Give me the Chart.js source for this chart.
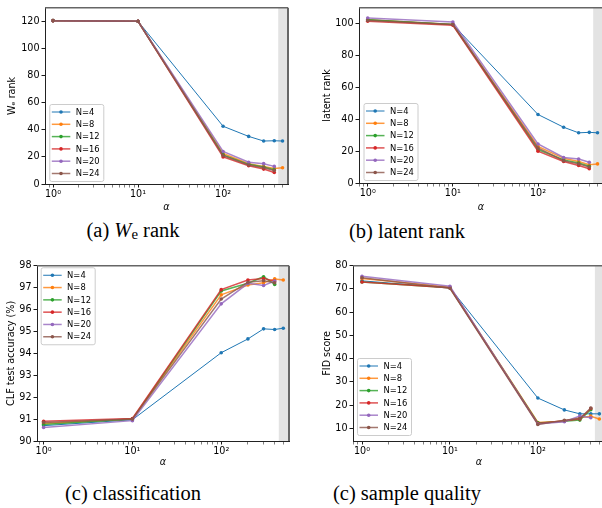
<!DOCTYPE html>
<html>
<head>
<meta charset="utf-8">
<script src="https://cdn.jsdelivr.net/npm/chart.js@4.4.0/dist/chart.umd.min.js"></script>
<style>
  html, body { margin: 0; padding: 0; background: #fff; overflow: hidden; }
  body { width: 602px; height: 508px; position: relative; }
  .panel { position: absolute; }
  .cap { position: absolute; font-family: "Liberation Serif", "Times New Roman", serif; font-size: 20.5px;
         color: #000; transform: translate(-50%, -50%); white-space: nowrap; }
  .cap sub { font-size: 0.72em; vertical-align: -0.2em; }
</style>
</head>
<body>
<canvas id="chartA" class="panel" width="300" height="216" style="left:0;top:0"></canvas>
<canvas id="chartB" class="panel" width="315" height="216" style="left:300px;top:0"></canvas>
<canvas id="chartC" class="panel" width="300" height="213" style="left:0;top:258px"></canvas>
<canvas id="chartD" class="panel" width="317" height="213" style="left:300px;top:258px"></canvas>
<div class="cap" style="left:133px;top:231px">(a) <i>W</i><sub>e</sub> rank</div>
<div class="cap" style="left:407px;top:231px">(b) latent rank</div>
<div class="cap" style="left:133px;top:493px">(c) classification</div>
<div class="cap" style="left:407px;top:493px">(c) sample quality</div>
<script>
// data
const alphas = [1, 10, 100, 200, 300, 400, 500];
const seriesNames = ['N=4', 'N=8', 'N=12', 'N=16', 'N=20', 'N=24'];
const seriesColors = ['#1f77b4', '#ff7f0e', '#2ca02c', '#d62728', '#9467bd', '#8c564b'];

const weRank = [
    [120.5, 120, 42.6, 35.1, 31.7, 31.9, 31.7],
    [120.5, 120, 22.5, 15, 13, 11.5, 12],
    [120.5, 120, 21.5, 14.5, 12.5, 10.5],
    [120.5, 120, 20, 13.5, 11, 8.5],
    [120.5, 120, 24, 16, 15, 13],
    [120.5, 120, 21, 14, 12, 10]
];
const latentRank = [
    [102.5, 99.5, 43, 35, 31.5, 31.8, 31.5],
    [102.5, 99.5, 23, 15.5, 13.5, 11.5, 12],
    [102.5, 99.5, 21, 14.5, 12.5, 10.5],
    [101.5, 99, 20, 13.5, 11, 9],
    [103.5, 101, 24.5, 16, 15, 13],
    [102, 99.5, 22, 14, 12, 10]
];
const clfAccuracy = [
    [90.7, 90.97, 94.03, 94.66, 95.12, 95.09, 95.15],
    [90.8, 91.0, 96.67, 97.12, 97.22, 97.4, 97.35],
    [90.75, 91.0, 96.85, 97.2, 97.5, 97.15],
    [90.9, 91.03, 96.91, 97.35, 97.42, 97.3],
    [90.62, 90.93, 96.26, 97.2, 97.1, 97.3],
    [90.85, 91.0, 96.48, 97.25, 97.32, 97.22]
];
const fidScore = [
    [73.5, 70.5, 23.0, 17.9, 16.2, 16.2, 16.2],
    [74.5, 70.8, 12.5, 13.0, 14.5, 15.2, 14.0],
    [73, 70.5, 12.3, 13.0, 13.5, 18],
    [73, 70.5, 12.0, 13.2, 14, 18.5],
    [75.5, 71.2, 11.8, 12.8, 15.3, 14.5],
    [74.8, 70.3, 11.6, 13.4, 14.2, 18.7]
];

const yTicksA = [0, 20, 40, 60, 80, 100, 120];
const yTicksB = [0, 20, 40, 60, 80, 100];
const yTicksC = [90, 91, 92, 93, 94, 95, 96, 97, 98];
const yTicksD = [10, 20, 30, 40, 50, 60, 70, 80];
const spanStart = 445;   // shaded alpha range
const xMax = 580;

const SUP = { '-1': '⁻¹', '0': '⁰', '1': '¹', '2': '²', '3': '³' };
const FONT = 'DejaVu Sans';

function withAlpha(hex, a) {
    const n = parseInt(hex.slice(1), 16);
    return `rgba(${n >> 16}, ${(n >> 8) & 255}, ${n & 255}, ${a})`;
}

// gray band + top/right spines
const framePlugin = {
    id: 'frame',
    beforeDatasetsDraw(chart) {
        const { ctx, chartArea: a, scales: { x } } = chart;
        const x0 = x.getPixelForValue(spanStart);
        ctx.save();
        ctx.fillStyle = '#e3e3e3';
        ctx.fillRect(x0, a.top, a.right - x0, a.bottom - a.top);
        ctx.restore();
    },
    afterDraw(chart) {
        const { ctx, chartArea: a } = chart;
        ctx.save();
        ctx.strokeStyle = '#666';
        ctx.lineWidth = 1.5;
        ctx.beginPath();
        ctx.moveTo(a.left, a.top); ctx.lineTo(a.right, a.top);
        ctx.stroke();
        ctx.lineWidth = 2;
        ctx.beginPath();
        ctx.moveTo(a.right, a.top); ctx.lineTo(a.right, a.bottom);
        ctx.stroke();
        ctx.restore();
    }
};

// matplotlib-like legend inside the axes
const legendPlugin = {
    id: 'insideLegend',
    afterDraw(chart, args, opts) {
        const { ctx, chartArea: a } = chart;
        const w = 54, h = 77, rowH = 12.3;
        const x0 = a.left + opts.dx;
        const y0 = opts.lower ? a.bottom - opts.dy - h : a.top + opts.dy;
        ctx.save();
        ctx.fillStyle = 'rgba(255,255,255,0.85)';
        ctx.strokeStyle = '#cccccc';
        ctx.lineWidth = 1;
        ctx.beginPath();
        ctx.roundRect(x0 + 0.5, y0 + 0.5, w, h, 2);
        ctx.fill();
        ctx.stroke();
        ctx.font = `8.4px "${FONT}"`;
        ctx.textBaseline = 'middle';
        chart.data.datasets.forEach((ds, i) => {
            const y = y0 + 8 + i * rowH;
            ctx.strokeStyle = ds.borderColor;
            ctx.lineWidth = ds.borderWidth;
            ctx.beginPath();
            ctx.moveTo(x0 + 2.5, y); ctx.lineTo(x0 + 21, y);
            ctx.stroke();
            ctx.fillStyle = ds.backgroundColor;
            ctx.beginPath();
            ctx.arc(x0 + 11.7, y, 1.8, 0, Math.PI * 2);
            ctx.fill();
            ctx.fillStyle = '#000';
            ctx.fillText(ds.label, x0 + 26.4, y + 0.5);
        });
        ctx.restore();
    }
};

function makeChart(id, rows, o) {
    const datasets = rows.map((vals, i) => ({
        label: seriesNames[i],
        data: vals.map((v, j) => ({ x: alphas[j], y: v })),
        borderColor: i === 0 ? seriesColors[i] : withAlpha(seriesColors[i], 0.8),
        backgroundColor: seriesColors[i],
        borderWidth: i === 0 ? 1 : 1.5,
        pointRadius: 1.8,
        pointBorderWidth: 0,
        pointHoverRadius: 0,
        tension: 0,
        order: rows.length - i
    }));
    return new Chart(document.getElementById(id), {
        type: 'line',
        data: { datasets },
        options: {
            responsive: false,
            animation: false,
            devicePixelRatio: 1,
            events: [],
            layout: { padding: { top: o.padTop, right: o.padRight, left: 0, bottom: 0 } },
            plugins: {
                legend: { display: false },
                tooltip: { enabled: false },
                insideLegend: o.legend
            },
            scales: {
                x: {
                    type: 'logarithmic',
                    min: o.xMin,
                    max: xMax,
                    afterBuildTicks: s => {
                        const t = [];
                        for (let k = -1; k <= 3; k++) {
                            for (let n = 1; n < 10; n++) {
                                const v = n * Math.pow(10, k);
                                if (v >= s.min && v <= s.max) t.push({ value: v, major: n === 1 });
                            }
                        }
                        s.ticks = t;
                    },
                    afterFit: s => { s.height = o.xHeight; },
                    ticks: {
                        autoSkip: false, maxRotation: 0, padding: 1, color: '#000',
                        font: { family: FONT, size: 9.6 },
                        callback: v => {
                            const l = Math.log10(v);
                            return Math.abs(l - Math.round(l)) < 1e-9 ? '10' + SUP[Math.round(l)] : '';
                        }
                    },
                    grid: {
                        drawOnChartArea: false, drawTicks: true, tickLength: 3.5, tickColor: '#000',
                        tickWidth: c => (c.tick && c.tick.major) ? 0.9 : 0.5
                    },
                    border: { display: true, color: '#222', width: 1 },
                    title: {
                        display: true, text: 'α', color: '#000',
                        font: { family: FONT, size: 9.6, style: 'italic' },
                        padding: { top: 0, bottom: 3 }
                    }
                },
                y: {
                    min: o.yMin,
                    max: o.yMax,
                    afterBuildTicks: s => { s.ticks = o.yTicks.map(v => ({ value: v })); },
                    afterFit: s => { s.width = o.yWidth; },
                    ticks: { padding: 2, color: '#000', font: { family: FONT, size: 9.6 } },
                    grid: { drawOnChartArea: false, drawTicks: true, tickLength: 3.5, tickColor: '#000', tickWidth: 0.9 },
                    border: { display: true, color: '#222', width: 1 },
                    title: {
                        display: true, text: o.yTitle, color: '#000',
                        font: { family: FONT, size: 9.6 },
                        padding: { top: o.yTitlePad, bottom: 0 }
                    }
                }
            }
        },
        plugins: [framePlugin, legendPlugin]
    });
}

makeChart('chartA', weRank, {
    xMin: 0.805, yMin: 0, yMax: 130, yTicks: yTicksA, yTitle: 'Wₑ rank',
    padTop: 5, padRight: 12, yWidth: 45, xHeight: 32, yTitlePad: 7,
    legend: { lower: true, dx: 4.3, dy: 3 }
});
makeChart('chartB', latentRank, {
    xMin: 0.79, yMin: 0, yMax: 110, yTicks: yTicksB, yTitle: 'latent rank',
    padTop: 5, padRight: 12, yWidth: 59, xHeight: 33, yTitlePad: 22,
    legend: { lower: true, dx: 4.5, dy: 3 }
});
makeChart('chartC', clfAccuracy, {
    xMin: 0.843, yMin: 90, yMax: 98, yTicks: yTicksC, yTitle: 'CLF test accuracy (%)',
    padTop: 6, padRight: 11, yWidth: 37, xHeight: 30, yTitlePad: 6,
    legend: { lower: false, dx: 3.7, dy: 1.5 }
});
makeChart('chartD', fidScore, {
    xMin: 0.79, yMin: 4.5, yMax: 80, yTicks: yTicksD, yTitle: 'FID score',
    padTop: 6, padRight: 12, yWidth: 53, xHeight: 30, yTitlePad: 22,
    legend: { lower: true, dx: 4, dy: 6 }
});
</script>
</body>
</html>
